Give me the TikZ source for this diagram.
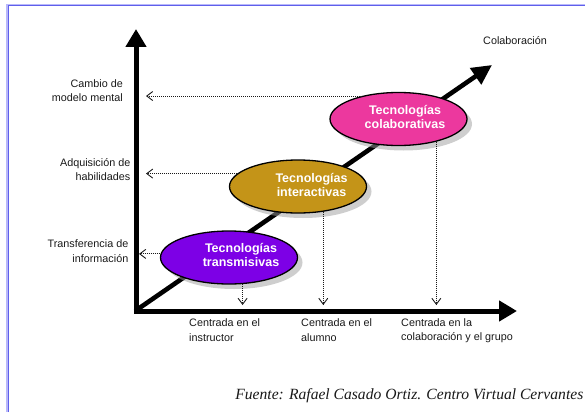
\documentclass[tikz,border=0pt]{standalone}
\usepackage{fontspec}
\setmainfont{Liberation Serif}
\setsansfont{Liberation Sans}
\usetikzlibrary{arrows.meta,shapes.geometric,shadows}
\definecolor{tpurple}{RGB}{125,0,230}
\definecolor{tgold}{RGB}{196,148,24}
\definecolor{tpink}{RGB}{236,56,158}
\definecolor{bordblue}{RGB}{95,95,235}
\definecolor{bordlight}{RGB}{185,185,250}
\begin{document}
\begin{tikzpicture}[x=1pt,y=-1pt,
  axisarrow/.style={line width=5pt,-{Triangle[length=18pt,width=20pt]}},
  diagarrow/.style={line width=4.6pt,-{Triangle[length=20pt,width=19pt]}},
  techell/.style={ellipse,draw=black,line width=1.3pt,minimum width=137pt,minimum height=53pt,inner sep=0pt,
    drop shadow={shadow xshift=5pt,shadow yshift=-5pt,fill=black!38}},
  etext/.style={text=white,font=\sffamily\bfseries\fontsize{12.5}{14}\selectfont,align=center,inner sep=0pt},
  lab/.style={font=\sffamily\fontsize{10.8}{14.5}\selectfont,inner sep=0pt,text=black!90},
  dotarr/.style={densely dotted,line width=1pt,draw=black!90,
    -{Straight Barb[length=6pt,width=9pt,line width=0.9pt]}}
]
\useasboundingbox (0,0) rectangle (585,412);
% frame
\draw[bordlight,line width=1.2pt] (7,412) -- (7,4.3) -- (585,4.3);
\draw[bordblue,line width=1.4pt] (8.3,412) -- (8.3,5.6) -- (585,5.6);

% axes
\coordinate (O) at (136,311);
\coordinate (ytip) at (136,29);
\coordinate (xtip) at (517,311);
\coordinate (xstart) at (133.5,311);
\coordinate (ystart) at (136,313.5);
\coordinate (dstart) at (138,309);
\coordinate (dtip) at (492,65);
\draw[axisarrow] (ystart) -- (ytip);
\draw[axisarrow] (xstart) -- (xtip);
\draw[diagarrow] (dstart) -- (dtip);

% ellipses
\node[techell,fill=tpurple] (e1) at (229,257.5) {};
\node[techell,fill=tgold] (e2) at (298,186.5) {};
\node[techell,fill=tpink] (e3) at (398.5,119) {};
\node[etext] (t1) at (241,254.5) {Tecnologías\\transmisivas};
\node[etext] (t2) at (311.5,184.5) {Tecnologías\\interactivas};
\node[etext] (t3) at (405,116.7) {Tecnologías\\colaborativas};

% arrow end coordinates
\coordinate (vC) at (146,0);
\coordinate (vT) at (139,0);
\coordinate (hB) at (0,305);
\draw[dotarr] (e3.148) -- (e3.148 -| vC);
\draw[dotarr] (e2.168) -- (e2.168 -| vC);
\draw[dotarr] (e1.177) -- (e1.177 -| vT);
\draw[dotarr] (e1.297) -- (e1.297 |- hB);
\draw[dotarr] (e2.315) -- (e2.315 |- hB);
\draw[dotarr] (e3.329) -- (e3.329 |- hB);

% labels
\node[lab,anchor=east,align=right] (lc) at (123,90.5) {Cambio de\\modelo mental};
\node[lab,anchor=east,align=right] (la) at (130.5,169.5) {Adquisición de\\habilidades};
\node[lab,anchor=east,align=right] (lt) at (128.5,251) {Transferencia de\\información};
\node[lab,anchor=west,align=left] (b1) at (189,330) {Centrada en el\\instructor};
\node[lab,anchor=west,align=left] (b2) at (301,330) {Centrada en el\\alumno};
\node[lab,anchor=west,align=left] (b3) at (401,330.5) {Centrada en la\\colaboración y el grupo};
\node[lab,anchor=west] (lcol) at (483,41) {Colaboración};
\node[font=\itshape\fontsize{15.6}{18}\selectfont,inner sep=0pt,anchor=east,text=black!90] (src) at (583.5,396) {Fuente: Rafael Casado Ortiz. Centro Virtual Cervantes};
\end{tikzpicture}
\end{document}
